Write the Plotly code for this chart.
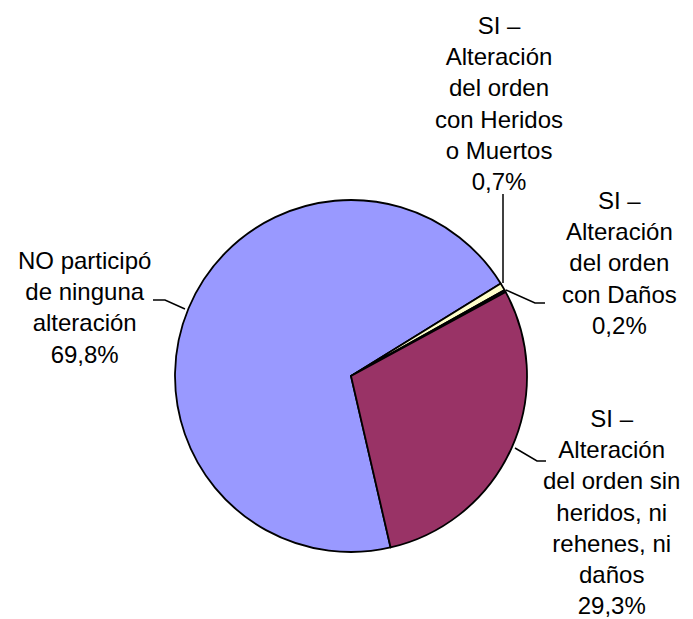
import plotly.graph_objects as go

# slices in clockwise order from the lower right
labels = ["NO participó de ninguna alteración",
          "SI – Alteración del orden con Heridos o Muertos",
          "SI – Alteración del orden con Daños",
          "SI – Alteración del orden sin heridos, ni rehenes, ni daños"]
values = [69.8, 0.7, 0.2, 29.3]
colors = ["#9999FF", "#FFFFCC", "#1A1A40", "#993366"]
label_texts = ["NO participó<br>de ninguna<br>alteración<br>69,8%",
               "SI –<br>Alteración<br>del orden<br>con Heridos<br>o Muertos<br>0,7%",
               "SI –<br>Alteración<br>del orden<br>con Daños<br>0,2%",
               "SI –<br>Alteración<br>del orden sin<br>heridos, ni<br>rehenes, ni<br>daños<br>29,3%"]

W, H = 693, 619


def px(x, y):
    return x / W, 1 - y / H


fig = go.Figure(go.Pie(
    labels=labels, values=values, sort=False, direction="clockwise",
    rotation=167, textinfo="none", hoverinfo="label+percent",
    marker=dict(colors=colors, line=dict(color="black", width=1.8)),
    domain=dict(x=[(351 - 176) / W, (351 + 176) / W],
                y=[(H - 376 - 176) / H, (H - 376 + 176) / H]),
))

# label positions (pixel centres) and leader lines
label_pos = [(84, 307), (499, 103), (619, 263), (611, 512)]
leaders = [[(185, 309), (165, 300), (153, 300)],
           [(503, 283), (503, 194)],
           [(506, 290), (535, 303), (545, 303)],
           [(515, 448), (537, 461), (546, 461)]]

for txt, (x, y) in zip(label_texts, label_pos):
    ax_, ay_ = px(x, y)
    fig.add_annotation(x=ax_, y=ay_, xref="paper", yref="paper", text=txt,
                       showarrow=False, align="center",
                       xanchor="center", yanchor="middle",
                       font=dict(size=24, color="black"))

for pts in leaders:
    path = ""
    for i, (x, y) in enumerate(pts):
        a, b = px(x, y)
        path += ("M" if i == 0 else " L") + f" {a} {b}"
    fig.add_shape(type="path", path=path, xref="paper", yref="paper",
                  line=dict(color="black", width=1.5))

fig.update_layout(
    width=W, height=H, showlegend=False,
    margin=dict(l=0, r=0, t=0, b=0),
    paper_bgcolor="white", plot_bgcolor="white",
    font=dict(family="Liberation Sans, Arial, sans-serif", color="black"),
)

fig.write_html("out.html", config={"displayModeBar": False},
               post_script="document.body.style.margin='0';")
